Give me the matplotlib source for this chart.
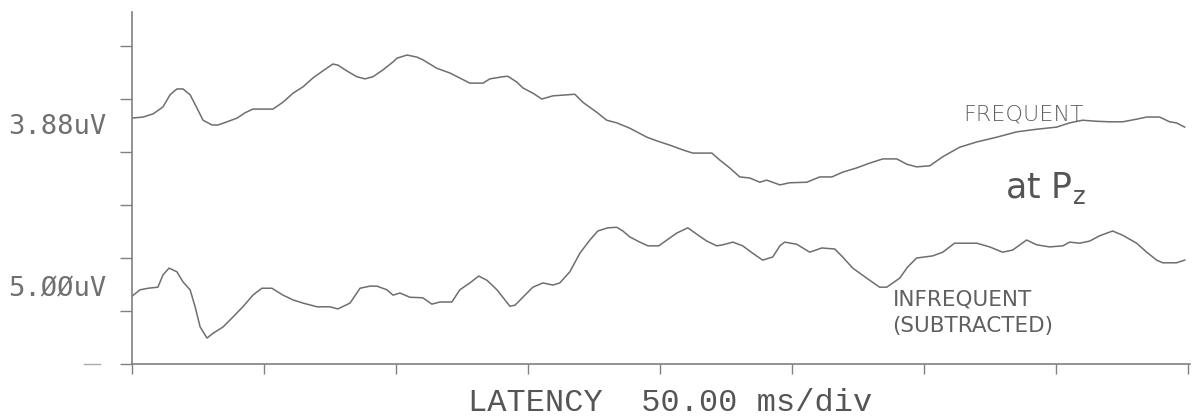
import matplotlib.pyplot as plt

# latency (ms) and amplitude (divisions above the baseline)
freq_ms = [0, 4.2, 8.0, 11.7, 14.4, 17.0, 19.3, 22.0, 24.6, 26.9, 30.3, 32.6, 36.0, 39.8,
           42.8, 45.8, 53.4, 57.2, 61.0, 64.8, 68.6, 72.3, 76.1, 78.0, 81.4, 85.2, 88.3,
           91.3, 95.1, 98.9, 100.4, 104.2, 108.0, 110.2, 115.5, 120.5, 128.0, 133.0, 135.6,
           140.5, 142.4, 145.8, 148.1, 151.9, 155.3, 159.5, 167.8, 170.8, 176.1, 179.9,
           183.7, 188.6, 195.1, 198.9, 203.8, 208.7, 212.5, 219.7, 222.7, 226.5, 230.3,
           234.1, 237.9, 240.5, 245.5, 249.2, 255.7, 260.6, 265.2, 269.3, 274.6, 279.5,
           284.5, 289.8, 293.6, 297.3, 302.3, 307.2, 313.6, 320.1, 327.7, 335.2, 342.8,
           350.4, 355.3, 360.2, 365.5, 370.5, 375.4, 380.7, 384.5, 389.4, 393.2, 395.8, 398.9]
freq_amp = [4.64, 4.66, 4.72, 4.85, 5.08, 5.19, 5.19, 5.08, 4.83, 4.60, 4.51, 4.51, 4.57, 4.64,
            4.74, 4.81, 4.81, 4.94, 5.11, 5.23, 5.40, 5.53, 5.66, 5.64, 5.53, 5.42, 5.38,
            5.42, 5.55, 5.70, 5.77, 5.83, 5.79, 5.74, 5.58, 5.49, 5.30, 5.30, 5.38,
            5.42, 5.43, 5.32, 5.21, 5.11, 5.00, 5.06, 5.09, 4.94, 4.75, 4.60,
            4.55, 4.45, 4.28, 4.21, 4.13, 4.04, 3.98, 3.98, 3.85, 3.70, 3.53,
            3.51, 3.43, 3.47, 3.38, 3.42, 3.43, 3.53, 3.53, 3.62, 3.70, 3.79,
            3.87, 3.87, 3.77, 3.72, 3.74, 3.91, 4.09, 4.19, 4.28, 4.38, 4.43,
            4.47, 4.55, 4.60, 4.58, 4.57, 4.57, 4.62, 4.66, 4.66, 4.57, 4.55, 4.47]

infreq_ms = [0, 3.0, 6.1, 9.8, 11.7, 14.0, 17.0, 19.3, 22.0, 23.9, 25.8, 28.4, 30.7, 34.5,
             38.3, 42.0, 45.8, 49.2, 53.0, 57.2, 61.0, 64.8, 70.1, 75.0, 78.0, 82.6, 86.4,
             90.2, 92.8, 96.6, 98.9, 101.5, 105.3, 110.2, 113.6, 116.7, 121.2, 124.2, 128.0,
             131.4, 134.5, 138.3, 141.3, 143.2, 145.1, 148.1, 151.9, 155.7, 159.5, 162.1,
             165.9, 169.7, 173.5, 176.5, 180.3, 183.7, 186.0, 188.6, 192.4, 195.5, 199.6,
             202.7, 206.4, 210.6, 214.0, 217.8, 221.6, 223.9, 227.7, 231.4, 235.2, 239.0,
             242.8, 245.5, 247.3, 251.9, 256.8, 261.4, 266.3, 269.3, 273.1, 278.4, 283.3,
             286.0, 290.9, 293.9, 297.3, 303.4, 307.2, 311.7, 320.1, 325.0, 329.9, 333.7,
             339.0, 342.8, 347.7, 352.7, 355.3, 359.1, 362.9, 366.7, 371.6, 375.4, 380.7,
             384.5, 388.3, 390.6, 395.8, 398.9]
infreq_amp = [1.28, 1.40, 1.43, 1.45, 1.68, 1.81, 1.74, 1.55, 1.40, 1.08, 0.70, 0.49, 0.58, 0.70,
              0.89, 1.08, 1.30, 1.43, 1.43, 1.30, 1.21, 1.15, 1.08, 1.08, 1.04, 1.15, 1.43,
              1.47, 1.47, 1.40, 1.30, 1.34, 1.26, 1.25, 1.13, 1.17, 1.17, 1.40, 1.53,
              1.66, 1.58, 1.40, 1.21, 1.09, 1.11, 1.26, 1.45, 1.53, 1.49, 1.53,
              1.74, 2.09, 2.34, 2.51, 2.57, 2.58, 2.51, 2.40, 2.30, 2.23, 2.23,
              2.34, 2.47, 2.57, 2.45, 2.32, 2.23, 2.25, 2.30, 2.23, 2.09, 1.96,
              2.02, 2.23, 2.30, 2.26, 2.11, 2.19, 2.17, 2.02, 1.81, 1.62, 1.45,
              1.45, 1.62, 1.83, 2.00, 2.04, 2.11, 2.28, 2.28, 2.21, 2.11, 2.15,
              2.34, 2.25, 2.21, 2.23, 2.30, 2.28, 2.32, 2.42, 2.51, 2.43, 2.28,
              2.11, 1.96, 1.91, 1.91, 1.96]

x_ticks = [0, 50, 100, 150, 200, 250, 300, 350, 400]
y_ticks = [0, 1, 2, 3, 4, 5, 6]
scale_labels = ["3.88uV", "5.ØØuV"]
scale_pos = [4.47, 1.40]

ink = "#6e6e6e"

fig = plt.figure(figsize=(11.95, 4.17), dpi=100)
ax = fig.add_axes([0.1105, 0.127, 0.8855, 0.844])

ax.plot(freq_ms, freq_amp, color=ink, lw=1.1)
ax.plot(infreq_ms, infreq_amp, color=ink, lw=1.1)

ax.set_xlim(0, 401)
ax.set_ylim(0, 6.64)
for s in ["top", "right"]:
    ax.spines[s].set_visible(False)
for s in ["left", "bottom"]:
    ax.spines[s].set_color("#808080")
    ax.spines[s].set_linewidth(1.2)
ax.set_xticks(x_ticks)
ax.set_yticks(y_ticks)
ax.set_xticklabels([])
ax.set_yticklabels([])
ax.tick_params(axis="x", direction="out", length=7, width=1.0, color="#808080")
ax.tick_params(axis="y", direction="out", length=9, width=1.0, color="#808080")

# stray dash left of the origin
ax.plot([-0.045, -0.03], [0, 0], transform=ax.transAxes, color="#aaaaaa",
        lw=1.0, clip_on=False)

for lab, yv in zip(scale_labels, scale_pos):
    ax.text(-0.117, yv, lab, transform=ax.get_yaxis_transform(), ha="left",
            va="center", fontsize=19.5, family="DejaVu Sans Mono", color="#707070")

fig.text(670 / 1195, 1 - 403 / 417, "LATENCY  50.00 ms/div", ha="center",
         va="center", fontsize=23, family="Liberation Mono", color="#555555")

# handwritten notes
ax.text(338, 4.70, "FREQUENT", fontsize=16, color="#606060",
        ha="center", va="center", fontweight="light")
ax.text(346, 3.32, "at P$_\\mathregular{z}$", fontsize=25, color="#555555",
        ha="center", va="center")
ax.text(288.3, 1.21, "INFREQUENT", fontsize=15.5, color="#606060",
        ha="left", va="center")
ax.text(288, 0.72, "(SUBTRACTED)", fontsize=15.5, color="#606060",
        ha="left", va="center")

fig.savefig("out.png", dpi=100)
